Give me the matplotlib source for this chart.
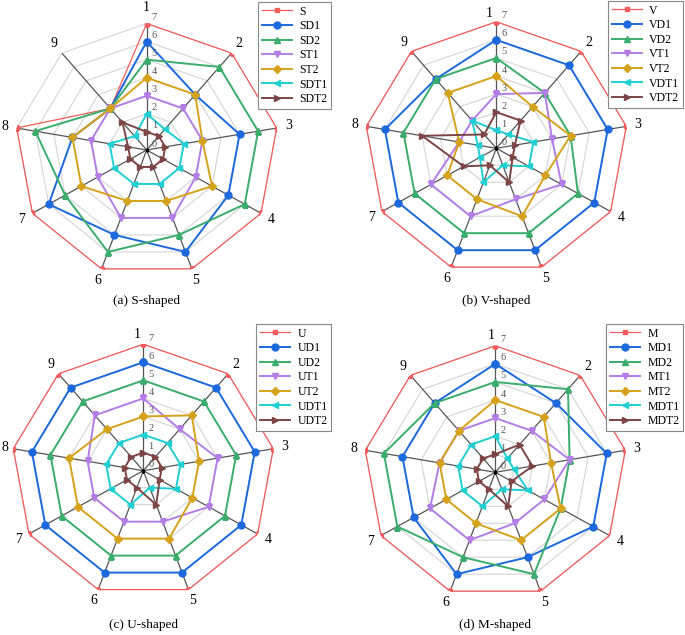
import numpy as np
import matplotlib
matplotlib.use('Agg')
import matplotlib.pyplot as plt
from matplotlib.transforms import offset_copy

plt.rcParams['font.family'] = ['Liberation Serif', 'DejaVu Serif']

axis_labels = ['1', '2', '3', '4', '5', '6', '7', '8', '9']
r_ticks = [0, 1, 2, 3, 4, 5, 6, 7]

# (a) S-shaped
s_names = ['S', 'SD1', 'SD2', 'ST1', 'ST2', 'SDT1', 'SDT2']
s_S = [7, 7, 7, 7, 7, 7, 7, 7, 3]
s_SD1 = [6, 4, 5, 5, 6, 5, 6, 4, 3]
s_SD2 = [5, 6, 6, 6, 5, 6, 5, 6, 3]
s_ST1 = [3, 3, 3, 3, 4, 4, 3, 3, 3]
s_ST2 = [4, 4, 3, 4, 3, 3, 4, 4, 3]
s_SDT1 = [2, 1.5, 2, 2, 2, 2, 2, 2, 1]
s_SDT2 = [1, 1, 1, 1, 1, 1, 1, 1, 2]

# (b) V-shaped
v_names = ['V', 'VD1', 'VD2', 'VT1', 'VT2', 'VDT1', 'VDT2']
v_V = [7, 7, 7, 7, 7, 7, 7, 7, 7]
v_VD1 = [6, 6, 6, 6, 6, 6, 6, 6, 5]
v_VD2 = [5, 4, 4, 5, 5, 5, 5, 5, 5]
v_VT1 = [3, 4, 3, 4, 3, 4, 4, 2, 2]
v_VT2 = [4, 3, 4, 3, 4, 3, 3, 2, 4]
v_VDT1 = [1, 1, 2, 2, 1, 2, 1, 1, 2]
v_VDT2 = [2, 2, 1, 1, 2, 1, 2, 4, 1]

# (c) U-shaped
u_names = ['U', 'UD1', 'UD2', 'UT1', 'UT2', 'UDT1', 'UDT2']
u_U = [7, 7, 7, 7, 7, 7, 7, 7, 7]
u_UD1 = [6, 6, 6, 6, 6, 6, 6, 6, 6]
u_UD2 = [5, 5, 5, 5, 5, 5, 5, 5, 5]
u_UT1 = [4, 3, 4, 4, 3, 3, 3, 3, 4]
u_UT2 = [3, 4, 3, 3, 4, 4, 4, 4, 3]
u_UDT1 = [2, 2, 2, 2, 1, 2, 2, 2, 2]
u_UDT2 = [1, 1, 1, 1, 2, 1, 1, 1, 1]

# (d) M-shaped
m_names = ['M', 'MD1', 'MD2', 'MT1', 'MT2', 'MDT1', 'MDT2']
m_M = [7, 7, 7, 7, 7, 7, 7, 7, 7]
m_MD1 = [6, 5, 6, 6, 5, 6, 5, 5, 5]
m_MD2 = [5, 6, 4, 4, 6, 5, 6, 6, 5]
m_MT1 = [3, 3, 4, 3, 3, 4, 4, 3, 3]
m_MT2 = [4, 4, 3, 4, 4, 3, 3, 3, 3]
m_MDT1 = [2, 1, 1, 2, 1, 2, 2, 2, 2]
m_MDT2 = [1, 2, 2, 1, 2, 1, 1, 1, 1]

captions = ['(a) S-shaped', '(b) V-shaped', '(c) U-shaped', '(d) M-shaped']

colors = ['#f25c5c', '#1c68dd', '#3aad6c', '#b27ee6', '#d5a21b', '#1fcfd2', '#7d4545']
markers = ['s', 'o', '^', 'v', 'D', '<', '>']
msizes = [2.5, 5, 5, 5, 4, 5, 5]
lwidths = [0.9, 1.4, 1.4, 1.4, 1.4, 1.4, 1.4]

W, H = 685, 635


def radar(fig, cx, cy, rx, ry, names, series, legend_xy, caption, cap_y, top_off, left_off=11.5):
	# axes box in pixel -> figure fraction
	ax = fig.add_axes([(cx - rx) / W, 1 - (cy + ry) / H, 2 * rx / W, 2 * ry / H], projection='polar')
	ax.set_aspect('auto')
	ax.set_theta_offset(np.pi / 2)
	ax.set_theta_direction(-1)
	ax.set_ylim(0, 7)
	ax.grid(False)
	ax.set_xticks([])
	ax.set_yticks([])
	ax.spines['polar'].set_visible(False)
	ax.patch.set_visible(False)

	n = len(axis_labels)
	theta = np.linspace(0, 2 * np.pi, n, endpoint=False)
	theta_c = np.append(theta, theta[0])

	# 网格多边形
	for r in r_ticks[1:]:
		ax.plot(theta_c, [r] * (n + 1), color='#d4d4d4', lw=0.8, zorder=1)
	# 辐射线
	for t in theta:
		ax.plot([t, t], [0, 7], color='#555555', lw=0.9, zorder=1)
	ax.plot([0], [0], marker='s', color='black', ms=2, zorder=5)

	for i, vals in enumerate(series):
		v = np.append(vals, vals[0])
		ax.plot(theta_c, v, color=colors[i], marker=markers[i], ms=msizes[i], lw=lwidths[i],
				label=names[i], zorder=2 + i * 0.1)

	# 刻度数字
	trans = offset_copy(ax.transData, fig=fig, x=5, y=6, units='dots')
	for r in r_ticks:
		ax.text(0, r, str(r), transform=trans, fontsize=7.5, color='#555555', ha='left', va='center', zorder=6)

	# 维度标签, 在外圈外偏移固定像素
	for t, lab in zip(theta, axis_labels):
		ang = np.pi / 2 - t
		if lab == '1':
			dx, dy = top_off
		else:
			off = left_off if lab == '8' else 12
			dx, dy = off * np.cos(ang), off * np.sin(ang)
		tr = offset_copy(ax.transData, fig=fig, x=dx, y=dy, units='dots')
		ax.text(t, 7, lab, transform=tr, fontsize=10, ha='center', va='center')

	leg = ax.legend(loc='upper right', bbox_to_anchor=(legend_xy[0] / W, 1 - legend_xy[1] / H),
					bbox_transform=fig.transFigure, fontsize=8.5, fancybox=False, framealpha=1,
					edgecolor='#888888', handlelength=2.6, labelspacing=0.22, borderpad=0.3,
					handletextpad=0.6, borderaxespad=0)
	leg.get_frame().set_linewidth(0.8)

	fig.text(cx / W, 1 - cap_y / H, caption, fontsize=9.5, ha='center', va='center')
	return ax


if __name__ == '__main__':
	fig = plt.figure(figsize=(W / 100, H / 100), dpi=100)
	radar(fig, 146.7, 150, 132, 126.5, s_names, [s_S, s_SD1, s_SD2, s_ST1, s_ST2, s_SDT1, s_SDT2],
		  (331, 2), captions[0], 301, (0, 16))
	radar(fig, 496.3, 148.3, 132, 126.5, v_names, [v_V, v_VD1, v_VD2, v_VT1, v_VT2, v_VDT1, v_VDT2],
		  (683, 1), captions[1], 301, (-7, 8))
	radar(fig, 143.3, 470.7, 132, 126.5, u_names, [u_U, u_UD1, u_UD2, u_UT1, u_UT2, u_UDT1, u_UDT2],
		  (331, 324), captions[2], 625, (-6, 10), left_off=8.5)
	radar(fig, 495.3, 472.3, 132, 126.5, m_names, [m_M, m_MD1, m_MD2, m_MT1, m_MT2, m_MDT1, m_MDT2],
		  (683, 324), captions[3], 625, (-4, 10))
	fig.savefig('out.png', dpi=100)
